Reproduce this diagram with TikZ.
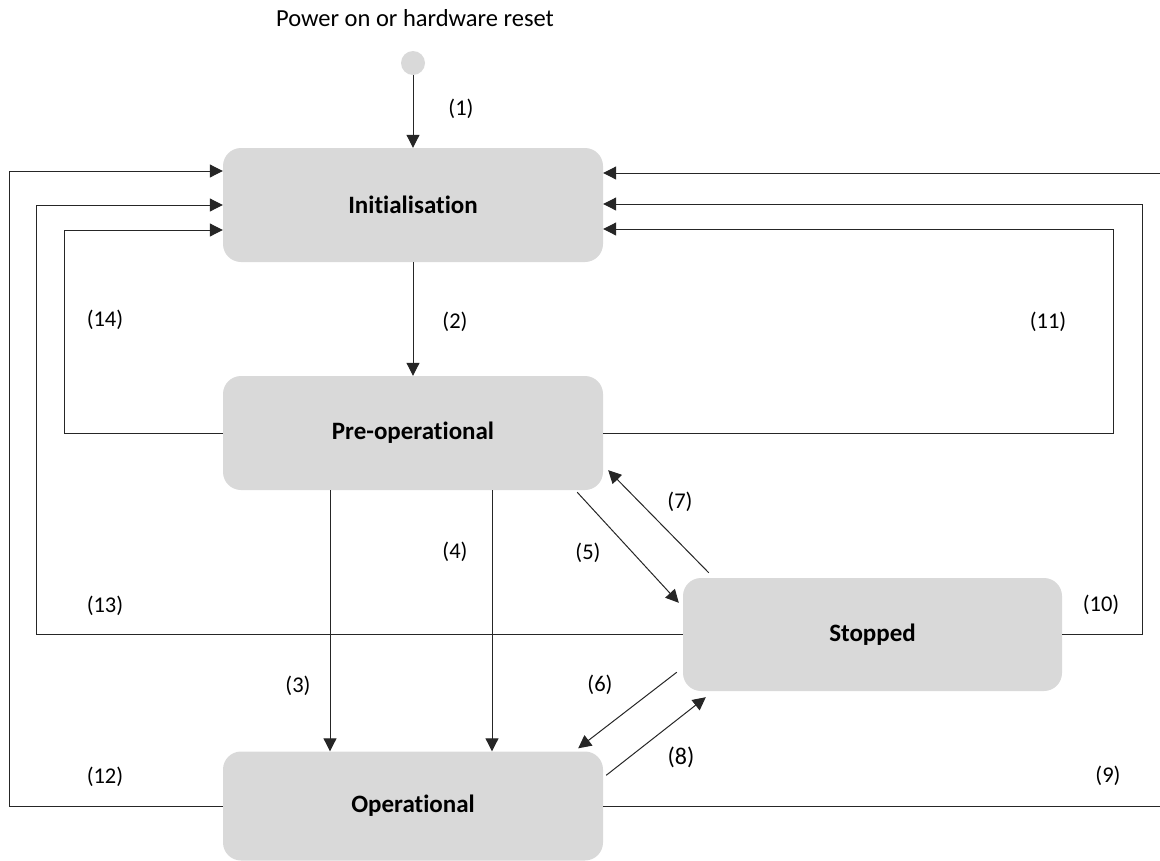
\documentclass[tikz,border=0pt]{standalone}
\usepackage{fontspec}
\setmainfont{Carlito}[Ligatures=NoCommon]
\usetikzlibrary{arrows.meta,calc,positioning}
\definecolor{StateGray}{HTML}{D9D9D9}
\definecolor{WireGray}{HTML}{262626}

\begin{document}
\begin{tikzpicture}[x=1pt,y=-1pt,
    state/.style={fill=StateGray,rounded corners=18pt,minimum width=380pt,
      minimum height=114pt,inner sep=0pt,font=\fontsize{25}{30}\selectfont\bfseries},
    flow/.style={WireGray,line width=1pt,-{Triangle[length=13pt,width=13pt]}},
    lbl/.style={font=\fontsize{22.5}{26}\selectfont,inner sep=0pt}]
      \useasboundingbox (0,0) rectangle (1160,860);
      \clip (0,0) rectangle (1160,860);
      % start point
      \node[font=\fontsize{24.5}{28}\selectfont,inner sep=0pt] (title) at (415,18)
      {Power on or hardware reset};
      \node[circle,fill=StateGray,minimum size=24pt,inner sep=0pt] (start) at (413,63) {};
      % states
      \node[state] (init) at (413,205) {Initialisation};
      \node[state] (preop) at (413,433) {Pre-operational};
      \node[state,minimum width=379pt,minimum height=113pt] (stopped) at (872.5,634.5) {Stopped};
      \node[state,minimum height=109pt] (op) at (413,806) {Operational};
      % straight transitions
      \draw[flow] (start) -- (init);
      \draw[flow] (init) -- (preop);
      \draw[flow] ($(preop.south)+(-83,0)$) -- ($(op.north)+(-83,0)$);
      \draw[flow] ($(preop.south)+(79,0)$) -- ($(op.north)+(79,0)$);
      \draw[flow] ($(preop.south east)+(-26,2)$) -- ($(stopped.north west)+(-4,25)$);
      \draw[flow] ($(stopped.north west)+(26,-5)$) -- ($(preop.south east)+(5,-20)$);
      \draw[flow] ($(stopped.south west)+(-6,-19)$) -- ($(op.north east)+(-25,-3)$);
      \draw[flow] ($(op.north east)+(3,24)$) -- ($(stopped.south west)+(23,6)$);
      % back to initialisation, right side
      \draw[flow] (op.east) -- ++(570,0) |- ($(init.east)+(0,-32)$);
      \draw[flow] (stopped.east) -- ++(80,0) |- ($(init.east)+(0,-1)$);
      \draw[flow] (preop.east) -- ++(510,0) |- ($(init.east)+(0,24)$);
      % back to initialisation, left side
      \draw[flow] (op.west) -- ++(-213,0) |- ($(init.west)+(0,-34)$);
      \draw[flow] (stopped.west) -- ++(-646,0) |- (init.west);
      \draw[flow] (preop.west) -- ++(-158,0) |- ($(init.west)+(0,25)$);
      % transition numbers
      \foreach \n/\x/\y in {1/461/109,2/455/322,3/298/686,4/455/552,5/588/553,
          6/600/685,7/680/502,9/1108/776,10/1101/605,11/1048/322,
          12/105/777,13/105/606,14/105/320}
        \node[lbl] (l\n) at (\x,\y) {(\n)};
      \node[lbl,font=\fontsize{24}{28}\selectfont] (l8) at (681,757) {(8)};
    \end{tikzpicture}
\end{document}
